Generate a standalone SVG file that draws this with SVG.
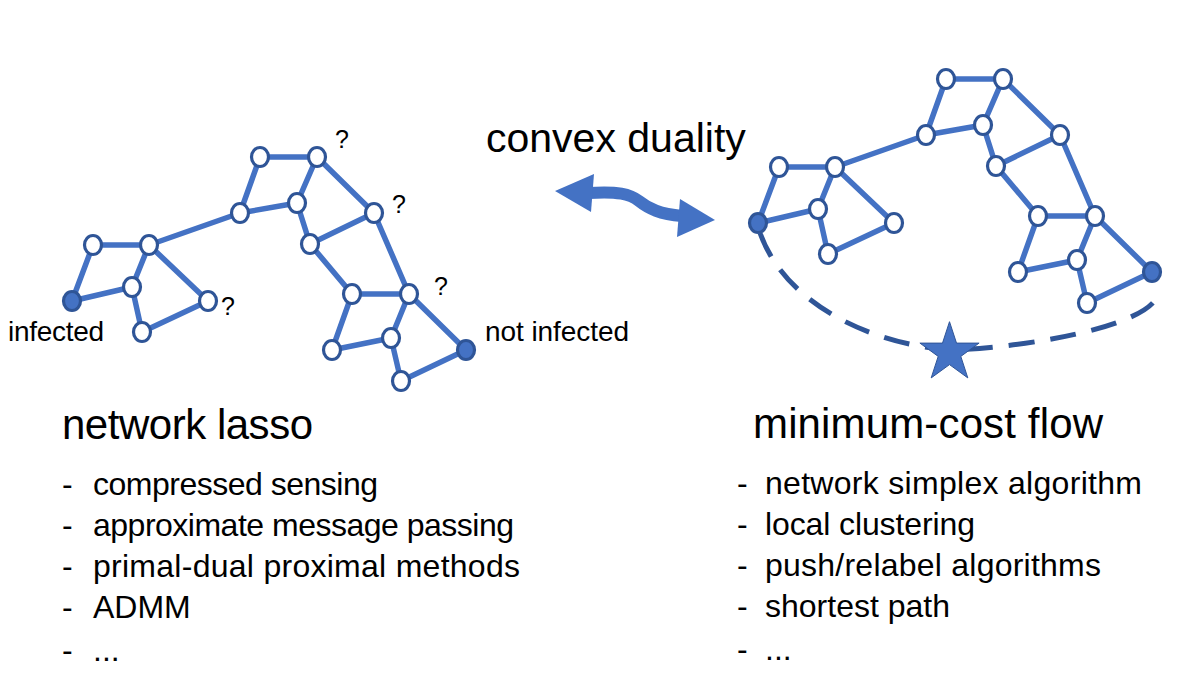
<svg xmlns="http://www.w3.org/2000/svg" width="1200" height="675" viewBox="0 0 1200 675">
<style>
  text { font-family: "Liberation Sans", Arial, sans-serif; fill: #000; }
  .e { stroke: #4472C4; stroke-width: 5.5; fill: none; stroke-linecap: round; }
  .n { fill: #fff; stroke: #2F5597; stroke-width: 3.2; }
  .f { fill: #4472C4; stroke: #2F5597; stroke-width: 3.2; }
  .q { font-size: 25px; }
  .lbl { font-size: 28px; }
  .h { font-size: 42px; }
  .li { font-size: 32px; }
</style>
<rect width="1200" height="675" fill="#fff"/>

<!-- Left graph -->
<g id="left-graph">
  <g id="left-edges" class="connectors">
    <path class="e" d="M72 301 L93 245 M72 301 L132 287 M93 245 L149 245 M149 245 L132 287 M149 245 L208 301 M149 245 L240 213 M132 287 L142 332 M142 332 L208 301 M240 213 L260 157 M240 213 L297 203 M260 157 L317 157 M317 157 L297 203 M317 157 L374 213 M297 203 L310 244 M374 213 L310 244 M374 213 L409 294 M310 244 L352 294 M352 294 L409 294 M352 294 L332 350 M409 294 L391 338 M409 294 L466 350 M332 350 L391 338 M391 338 L401 381 M401 381 L466 350"/>
  </g>
  <g id="L0"><ellipse class="f" cx="72" cy="301" rx="8.5" ry="9.5"/></g>
  <g id="L1"><ellipse class="n" cx="93" cy="245" rx="8.5" ry="9.5"/></g>
  <g id="L2"><ellipse class="n" cx="149" cy="245" rx="8.5" ry="9.5"/></g>
  <g id="L3"><ellipse class="n" cx="132" cy="287" rx="8.5" ry="9.5"/></g>
  <g id="L4"><ellipse class="n" cx="208" cy="301" rx="8.5" ry="9.5"/></g>
  <g id="L5"><ellipse class="n" cx="142" cy="332" rx="8.5" ry="9.5"/></g>
  <g id="L6"><ellipse class="n" cx="240" cy="213" rx="8.5" ry="9.5"/></g>
  <g id="L7"><ellipse class="n" cx="260" cy="157" rx="8.5" ry="9.5"/></g>
  <g id="L8"><ellipse class="n" cx="317" cy="157" rx="8.5" ry="9.5"/></g>
  <g id="L9"><ellipse class="n" cx="297" cy="203" rx="8.5" ry="9.5"/></g>
  <g id="L10"><ellipse class="n" cx="374" cy="213" rx="8.5" ry="9.5"/></g>
  <g id="L11"><ellipse class="n" cx="310" cy="244" rx="8.5" ry="9.5"/></g>
  <g id="L12"><ellipse class="n" cx="352" cy="294" rx="8.5" ry="9.5"/></g>
  <g id="L13"><ellipse class="n" cx="409" cy="294" rx="8.5" ry="9.5"/></g>
  <g id="L14"><ellipse class="n" cx="332" cy="350" rx="8.5" ry="9.5"/></g>
  <g id="L15"><ellipse class="n" cx="391" cy="338" rx="8.5" ry="9.5"/></g>
  <g id="L16"><ellipse class="f" cx="466" cy="350" rx="8.5" ry="9.5"/></g>
  <g id="L17"><ellipse class="n" cx="401" cy="381" rx="8.5" ry="9.5"/></g>
  <text class="q" x="335" y="148">?</text>
  <text class="q" x="392" y="213">?</text>
  <text class="q" x="434" y="295">?</text>
  <text class="q" x="221" y="315">?</text>
  <text class="lbl" x="8" y="341" textLength="96">infected</text>
  <text class="lbl" x="485" y="341" textLength="144">not infected</text>
</g>

<!-- Right graph -->
<g id="right-graph">
  <g id="dashed-path" class="connectors">
    <path d="M760 233 C788 310 880 345 950 350 C1040 347 1162 322 1158 290" fill="none" stroke="#2F5597" stroke-width="5" stroke-dasharray="26 16"/>
  </g>
  <g transform="translate(686,-78)">
    <g id="right-edges" class="connectors">
      <path class="e" d="M72 301 L93 245 M72 301 L132 287 M93 245 L149 245 M149 245 L132 287 M149 245 L208 301 M149 245 L240 213 M132 287 L142 332 M142 332 L208 301 M240 213 L260 157 M240 213 L297 203 M260 157 L317 157 M317 157 L297 203 M317 157 L374 213 M297 203 L310 244 M374 213 L310 244 M374 213 L409 294 M310 244 L352 294 M352 294 L409 294 M352 294 L332 350 M409 294 L391 338 M409 294 L466 350 M332 350 L391 338 M391 338 L401 381 M401 381 L466 350"/>
    </g>
    <g id="R0"><ellipse class="f" cx="72" cy="301" rx="8.5" ry="9.5"/></g>
    <g id="R1"><ellipse class="n" cx="93" cy="245" rx="8.5" ry="9.5"/></g>
    <g id="R2"><ellipse class="n" cx="149" cy="245" rx="8.5" ry="9.5"/></g>
    <g id="R3"><ellipse class="n" cx="132" cy="287" rx="8.5" ry="9.5"/></g>
    <g id="R4"><ellipse class="n" cx="208" cy="301" rx="8.5" ry="9.5"/></g>
    <g id="R5"><ellipse class="n" cx="142" cy="332" rx="8.5" ry="9.5"/></g>
    <g id="R6"><ellipse class="n" cx="240" cy="213" rx="8.5" ry="9.5"/></g>
    <g id="R7"><ellipse class="n" cx="260" cy="157" rx="8.5" ry="9.5"/></g>
    <g id="R8"><ellipse class="n" cx="317" cy="157" rx="8.5" ry="9.5"/></g>
    <g id="R9"><ellipse class="n" cx="297" cy="203" rx="8.5" ry="9.5"/></g>
    <g id="R10"><ellipse class="n" cx="374" cy="213" rx="8.5" ry="9.5"/></g>
    <g id="R11"><ellipse class="n" cx="310" cy="244" rx="8.5" ry="9.5"/></g>
    <g id="R12"><ellipse class="n" cx="352" cy="294" rx="8.5" ry="9.5"/></g>
    <g id="R13"><ellipse class="n" cx="409" cy="294" rx="8.5" ry="9.5"/></g>
    <g id="R14"><ellipse class="n" cx="332" cy="350" rx="8.5" ry="9.5"/></g>
    <g id="R15"><ellipse class="n" cx="391" cy="338" rx="8.5" ry="9.5"/></g>
    <g id="R16"><ellipse class="f" cx="466" cy="350" rx="8.5" ry="9.5"/></g>
    <g id="R17"><ellipse class="n" cx="401" cy="381" rx="8.5" ry="9.5"/></g>
  </g>
  <g id="star">
    <polygon points="949.5,321.7 956.5,343.1 979.1,343.1 960.8,356.4 967.8,377.9 949.5,364.6 931.2,377.9 938.2,356.4 919.9,343.1 942.5,343.1" fill="#4472C4" stroke="#2F5597" stroke-width="1"/>
  </g>
</g>

<!-- Duality arrow -->
<g id="duality-arrow">
  <path d="M588 193 C618 191 630 194 639 201 C649 209 660 214 682 216" fill="none" stroke="#4472C4" stroke-width="12"/>
  <polygon points="555,191 594,174 591,212" fill="#4472C4"/>
  <polygon points="715,220 680,199 677,237" fill="#4472C4"/>
  <text x="486" y="152" style="font-size:41px">convex duality</text>
</g>

<!-- Left list -->
<g id="left-list">
  <text class="h" x="62" y="439" textLength="251">network lasso</text>
  <g class="li">
    <text x="62" y="495">-</text><text x="93" y="495" textLength="285">compressed sensing</text>
    <text x="62" y="536">-</text><text x="93" y="536" textLength="421">approximate message passing</text>
    <text x="62" y="577">-</text><text x="93" y="577" textLength="427">primal-dual proximal methods</text>
    <text x="62" y="618">-</text><text x="93" y="618">ADMM</text>
    <text x="62" y="661">-</text><text x="93" y="661">...</text>
  </g>
</g>

<!-- Right list -->
<g id="right-list">
  <text class="h" x="753" y="438" textLength="350">minimum-cost flow</text>
  <g class="li">
    <text x="737" y="494">-</text><text x="765" y="494" textLength="377">network simplex algorithm</text>
    <text x="737" y="535">-</text><text x="765" y="535" textLength="210">local clustering</text>
    <text x="737" y="576">-</text><text x="765" y="576" textLength="336">push/relabel algorithms</text>
    <text x="737" y="617">-</text><text x="765" y="617" textLength="185">shortest path</text>
    <text x="737" y="660">-</text><text x="765" y="660">...</text>
  </g>
</g>
</svg>
